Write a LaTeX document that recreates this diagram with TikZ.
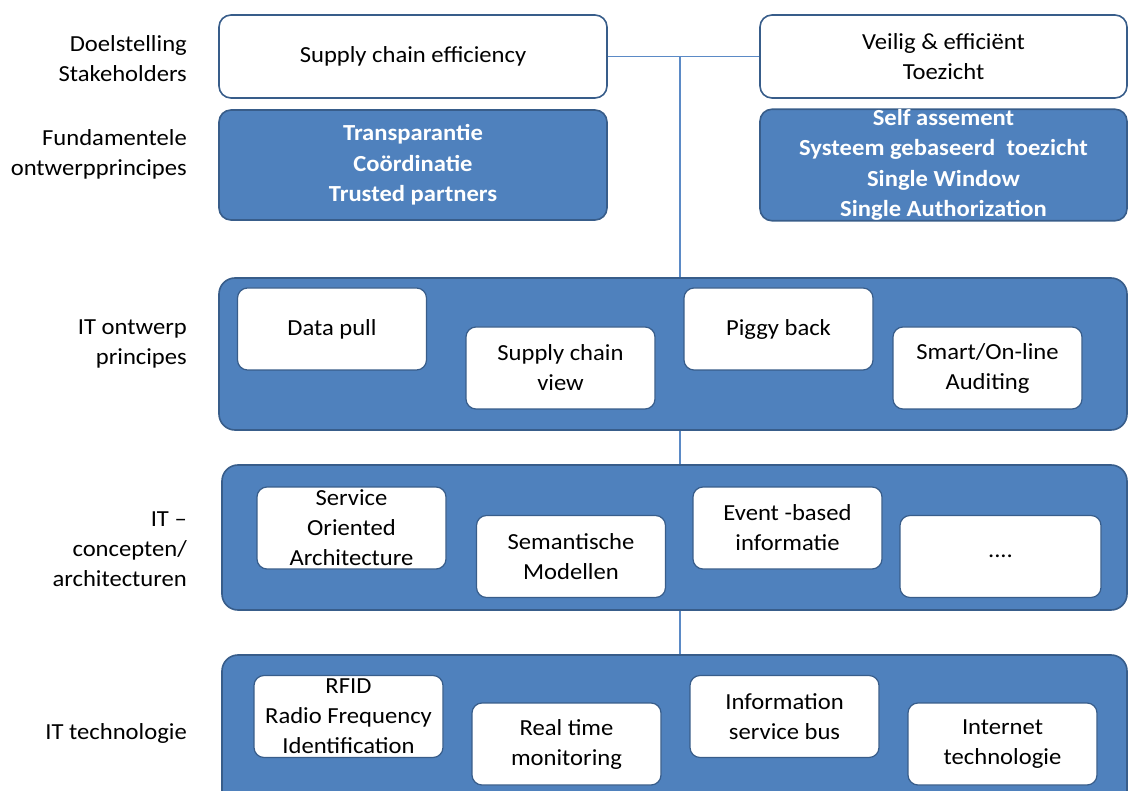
\documentclass[tikz,border=0pt]{standalone}
\usepackage{fontspec}
\setmainfont{Carlito}[FakeStretch=1.07]
\usetikzlibrary{positioning,calc}

\definecolor{lagblauw}{HTML}{4F81BD}
\definecolor{randblauw}{HTML}{385D8A}
\definecolor{lijnblauw}{HTML}{5B8AC6}

\begin{document}
\begin{tikzpicture}[x=1pt, y=-1pt,
  font=\fontsize{23}{30}\selectfont,
  doel/.style={draw=randblauw, line width=1.6pt, rounded corners=12pt, fill=white, align=center, inner sep=0pt},
  principe/.style={draw=randblauw, line width=1.6pt, rounded corners=12pt, fill=lagblauw, text=white, font=\fontsize{23}{30.5}\selectfont\bfseries, align=center, inner sep=0pt},
  laag/.style={draw=randblauw, line width=1.6pt, rounded corners=16pt, fill=lagblauw, inner sep=0pt},
  blok/.style={draw=randblauw, line width=1.2pt, rounded corners=10pt, fill=white, align=center, inner sep=0pt, minimum width=189pt, minimum height=82pt},
  kop/.style={anchor=east, align=right, inner sep=0pt},
  verbind/.style={draw=lijnblauw, line width=1.8pt}]
  \useasboundingbox (0,0) rectangle (1130,791);
  \clip (0,0) rectangle (1130,791);

  % linker kolom
  \node[kop] (k1) at (187,59) {Doelstelling\\Stakeholders};
  \node[kop] (k2) at (187,154) {Fundamentele\\ontwerpprincipes};
  \node[kop] (k3) at (187,344) {IT ontwerp\\principes};
  \node[kop] (k4) at (187,549) {IT --\\concepten/\\architecturen};
  \node[kop] (k5) at (187,733) {IT technologie};

  % doelstellingen en principes
  \node[doel, minimum width=388pt, minimum height=83pt] (sce) at (413,56.5) {Supply chain efficiency};
  \node[doel, minimum width=367pt, minimum height=83pt] (vet) at (943.5,56.5) {Veilig \& efficiënt\\Toezicht};
  \node[principe, minimum width=388pt, minimum height=110pt] (fpl) at (413,165) {Transparantie\\Coördinatie\\Trusted partners};
  \node[principe, minimum width=367pt, minimum height=110pt] (fpr) at (943.5,165) {Self assement\\Systeem gebaseerd\ \ toezicht\\Single Window\\Single Authorization};

  % lagen
  \node[laag, minimum width=908pt, minimum height=152pt] (ont) at (673,354) {};
  \node[laag, minimum width=905pt, minimum height=145pt] (con) at (674.5,537.5) {};
  \node[laag, minimum width=905pt, minimum height=160pt] (tec) at (674.5,735) {};

  \coordinate (hub) at (680,57);
  \draw[verbind] (sce.east) -- (vet.west);
  \draw[verbind] (hub) -- (hub |- ont.north);
  \draw[verbind] (ont.south -| hub) -- (con.north -| hub);
  \draw[verbind] (con.south -| hub) -- (tec.north -| hub);

  % IT ontwerp principes
  \node[blok] (dp) at (332,329) {Data pull};
  \node[blok] (scv) at (560.5,368) {Supply chain\\view};
  \node[blok] (pb) at (778.5,329) {Piggy back};
  \node[blok] (aud) at (987.5,368) {Smart/On-line\\Auditing};

  % IT concepten
  \node[blok] (soa) at (351.5,528) {Service\\Oriented\\Architecture};
  \node[blok] (sem) at (571,556.5) {Semantische\\Modellen};
  \node[blok] (evt) at (787.5,528) {Event -based\\informatie};
  \node[blok, minimum width=201pt] (etc) at (1000.5,556.5) {....};

  % IT technologie
  \node[blok] (rfid) at (348.5,716.5) {RFID\\Radio Frequency\\Identification};
  \node[blok] (rtm) at (566.5,744) {Real time\\monitoring};
  \node[blok] (isb) at (784.5,716.5) {Information\\service bus};
  \node[blok] (int) at (1002.5,744) {Internet\\technologie};
\end{tikzpicture}
\end{document}
